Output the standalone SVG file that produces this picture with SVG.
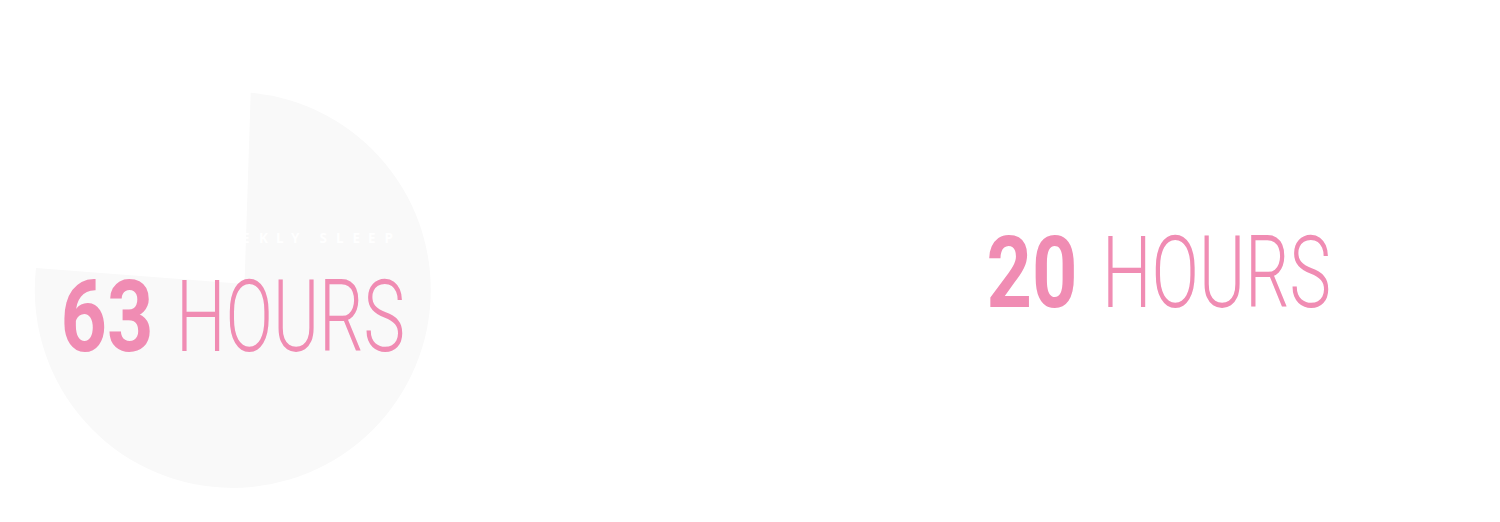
<svg xmlns="http://www.w3.org/2000/svg" width="1500" height="522" viewBox="0 0 1500 522">
  <style>
    .num { font-family: Roboto, "Liberation Sans", sans-serif; font-weight: 700; font-size: 100px; fill: #F08CB3; }
    .unit { font-family: Roboto, "Liberation Sans", sans-serif; font-weight: 300; font-size: 100px; fill: #F08CB3; }
    .label { font-family: "Open Sans", "Liberation Sans", sans-serif; font-weight: 700; font-size: 13.5px; fill: #FFFFFF; }
  </style>
  <rect x="0" y="0" width="1500" height="522" fill="#FFFFFF"/>
  <g id="pie">
    <path d="M 250.7 92.7 A 198 198 0 1 1 36 268 L 244.5 284 Z" fill="#F9F9F9"/>
  </g>
  <g id="weekly-sleep">
    <text class="label" x="207 226 242 259 276 291 305 319.5 336 352.5 368 384.5" y="243">WEEKLY SLEEP</text>
    <text class="num" x="60.5" y="351" textLength="93" lengthAdjust="spacingAndGlyphs">63</text>
    <text class="unit" x="176" y="351" textLength="229" lengthAdjust="spacingAndGlyphs">HOURS</text>
  </g>
  <g id="other">
    <text class="num" x="986.5" y="307" textLength="91" lengthAdjust="spacingAndGlyphs">20</text>
    <text class="unit" x="1102" y="307" textLength="229" lengthAdjust="spacingAndGlyphs">HOURS</text>
  </g>
</svg>
